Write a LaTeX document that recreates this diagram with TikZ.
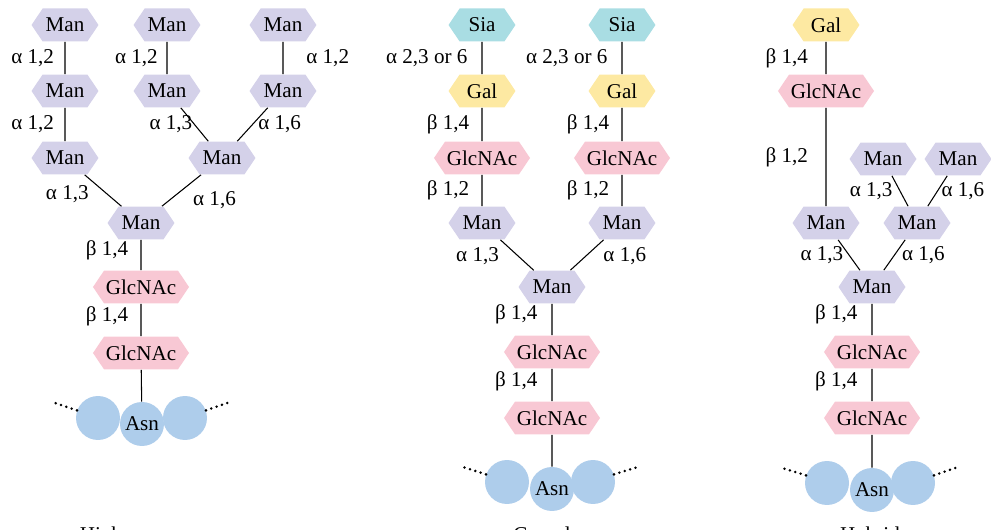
\documentclass[tikz,border=0pt]{standalone}
\usepackage{fontspec}
\setmainfont{Liberation Serif}
\usetikzlibrary{positioning, shapes.symbols}
\definecolor{manfill}{RGB}{212,209,233}
\definecolor{glcfill}{RGB}{248,200,212}
\definecolor{galfill}{RGB}{253,233,162}
\definecolor{siafill}{RGB}{169,221,227}
\definecolor{asnfill}{RGB}{174,205,235}
\tikzset{
  every node/.style={font=\fontsize{12}{14}\selectfont},
  sugar/.style={
    shape=signal, signal to=west and east, signal pointer angle=112,
    minimum height=6.6mm, minimum width=13.4mm, inner xsep=1pt, inner ysep=0pt
  },
  man/.style={sugar, fill=manfill},
  glc/.style={sugar, fill=glcfill, minimum width=18.6mm},
  gal/.style={sugar, fill=galfill},
  sia/.style={sugar, fill=siafill},
  bead/.style={circle, fill=asnfill, minimum size=8.8mm, inner sep=0pt},
  link/.style={line width=0.6pt},
  lbl/.style={inner sep=0pt},
  tail/.style={line width=1.6pt, dash pattern=on 0pt off 3.2pt, line cap=round},
}

\begin{document}
\begin{tikzpicture}[x=0.02cm, y=-0.02cm]
  \useasboundingbox (0,0) rectangle (991,530);

  % high mannose
  \node[man] (hmT1) at (65,25) {Man};
  \node[man] (hmT2) at (167,25) {Man};
  \node[man] (hmT3) at (283,25) {Man};
  \node[man] (hmM1) at (65,91) {Man};
  \node[man] (hmM2) at (167,91) {Man};
  \node[man] (hmM3) at (283,91) {Man};
  \node[man] (hmL1) at (65,158) {Man};
  \node[man] (hmL2) at (222,158) {Man};
  \node[man] (hmCore) at (141,223) {Man};
  \node[glc] (hmGn1) at (141,287) {GlcNAc};
  \node[glc] (hmGn2) at (141,353) {GlcNAc};
  \node[bead] (hmAsnL) at (98,418) {};
  \node[bead] (hmAsnR) at (185,418) {};
  \node[bead] (hmAsn) at (142,424) {Asn};
  \coordinate (hmTailL) at (55,403);
  \coordinate (hmTailR) at (230,402);
  \node[anchor=base] (hmName) at (141,541) {High mannose};

  \draw[link] (hmT1) -- node[lbl, left=6pt] {α 1,2} (hmM1);
  \draw[link] (hmM1) -- node[lbl, left=6pt] {α 1,2} (hmL1);
  \draw[link] (hmT2) -- node[lbl, left=5pt] {α 1,2} (hmM2);
  \draw[link] (hmT3) -- node[lbl, right=13pt] {α 1,2} (hmM3);
  \draw[link] (hmM2) -- node[lbl, left=1pt] {α 1,3} (hmL2);
  \draw[link] (hmM3) -- node[lbl, right=3pt] {α 1,6} (hmL2);
  \draw[link] (hmL1) -- node[lbl, pos=0.6, left=10pt] {α 1,3} (hmCore);
  \draw[link] (hmL2) -- node[lbl, pos=0.8, right=13pt] {α 1,6} (hmCore);
  \draw[link] (hmCore) -- node[lbl, pos=0.35, left=7pt] {β 1,4} (hmGn1);
  \draw[link] (hmGn1) -- node[lbl, pos=0.4, left=7pt] {β 1,4} (hmGn2);
  \draw[link] (hmGn2) -- (hmAsn);
  \draw[tail] (hmAsnL.160) -- (hmTailL);
  \draw[tail] (hmAsnR.20) -- (hmTailR);

  % complex
  \node[sia] (cxSia1) at (482,25) {Sia};
  \node[sia] (cxSia2) at (622,25) {Sia};
  \node[gal] (cxGal1) at (482,91) {Gal};
  \node[gal] (cxGal2) at (622,91) {Gal};
  \node[glc] (cxGn1) at (482,158) {GlcNAc};
  \node[glc] (cxGn2) at (622,158) {GlcNAc};
  \node[man] (cxMan1) at (482,223) {Man};
  \node[man] (cxMan2) at (622,223) {Man};
  \node[man] (cxCore) at (552,287) {Man};
  \node[glc] (cxGn3) at (552,352) {GlcNAc};
  \node[glc] (cxGn4) at (552,418) {GlcNAc};
  \node[bead] (cxAsnL) at (507,482) {};
  \node[bead] (cxAsnR) at (593,482) {};
  \node[bead] (cxAsn) at (552,489) {Asn};
  \coordinate (cxTailL) at (463,467);
  \coordinate (cxTailR) at (638,467);
  \node[anchor=base] (cxName) at (552,541) {Complex};

  \draw[link] (cxSia1) -- node[lbl, left=8pt] {α 2,3 or 6} (cxGal1);
  \draw[link] (cxSia2) -- node[lbl, left=8pt] {α 2,3 or 6} (cxGal2);
  \draw[link] (cxGal1) -- node[lbl, left=7pt] {β 1,4} (cxGn1);
  \draw[link] (cxGal2) -- node[lbl, left=7pt] {β 1,4} (cxGn2);
  \draw[link] (cxGn1) -- node[lbl, left=7pt] {β 1,2} (cxMan1);
  \draw[link] (cxGn2) -- node[lbl, left=7pt] {β 1,2} (cxMan2);
  \draw[link] (cxMan1) -- node[lbl, pos=0.55, left=11pt] {α 1,3} (cxCore);
  \draw[link] (cxMan2) -- node[lbl, pos=0.55, right=10pt] {α 1,6} (cxCore);
  \draw[link] (cxCore) -- node[lbl, pos=0.35, left=8pt] {β 1,4} (cxGn3);
  \draw[link] (cxGn3) -- node[lbl, pos=0.4, left=8pt] {β 1,4} (cxGn4);
  \draw[link] (cxGn4) -- (cxAsn);
  \draw[tail] (cxAsnL.160) -- (cxTailL);
  \draw[tail] (cxAsnR.20) -- (cxTailR);

  % hybrid
  \node[gal] (hyGal) at (826,25) {Gal};
  \node[glc] (hyGn1) at (826,91) {GlcNAc};
  \node[man] (hyMan1) at (826,223) {Man};
  \node[man] (hyTop1) at (883,159) {Man};
  \node[man] (hyTop2) at (958,159) {Man};
  \node[man] (hyMan2) at (917,223) {Man};
  \node[man] (hyCore) at (872,287) {Man};
  \node[glc] (hyGn2) at (872,352) {GlcNAc};
  \node[glc] (hyGn3) at (872,418) {GlcNAc};
  \node[bead] (hyAsnL) at (827,483) {};
  \node[bead] (hyAsnR) at (913,483) {};
  \node[bead] (hyAsn) at (872,490) {Asn};
  \coordinate (hyTailL) at (782,468);
  \coordinate (hyTailR) at (958,467);
  \node[anchor=base] (hyName) at (870,541) {Hybrid};

  \draw[link] (hyGal) -- node[lbl, left=10pt] {β 1,4} (hyGn1);
  \draw[link] (hyGn1) -- node[lbl, left=10pt] {β 1,2} (hyMan1);
  \draw[link] (hyTop1) -- node[lbl, left=4pt] {α 1,3} (hyMan2);
  \draw[link] (hyTop2) -- node[lbl, right=2pt] {α 1,6} (hyMan2);
  \draw[link] (hyMan1) -- node[lbl, left=3pt] {α 1,3} (hyCore);
  \draw[link] (hyMan2) -- node[lbl, right=4pt] {α 1,6} (hyCore);
  \draw[link] (hyCore) -- node[lbl, pos=0.35, left=8pt] {β 1,4} (hyGn2);
  \draw[link] (hyGn2) -- node[lbl, pos=0.4, left=8pt] {β 1,4} (hyGn3);
  \draw[link] (hyGn3) -- (hyAsn);
  \draw[tail] (hyAsnL.160) -- (hyTailL);
  \draw[tail] (hyAsnR.20) -- (hyTailR);
\end{tikzpicture}
\end{document}
